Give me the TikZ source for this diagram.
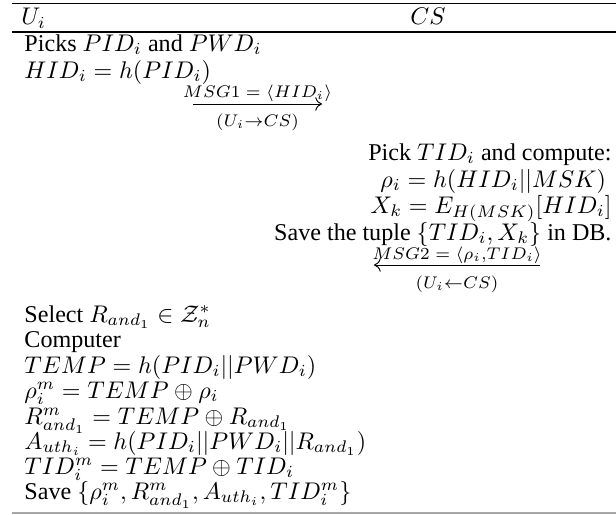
\documentclass[tikz,border=0pt]{standalone}
\usepackage[no-math]{fontspec}
\setmainfont{Liberation Serif}
\usetikzlibrary{arrows.meta}
\begin{document}
\begin{tikzpicture}[x=0.415pt,y=-0.415pt,
  lt/.style={anchor=base west,inner sep=0pt},
  rt/.style={anchor=base east,inner sep=0pt},
  lbl/.style={anchor=base,inner sep=0pt},
  rulebar/.style={line width=0.82pt},
  msg/.style={line width=0.4pt,-{To[length=2.8pt,width=5.6pt]}},
  msgl/.style={line width=0.4pt,{To[length=2.8pt,width=5.6pt]}-}
]
\useasboundingbox (0,0) rectangle (616,514);
% rules
\coordinate (r1a) at (12,3.5);  \coordinate (r1b) at (616,3.5);
\coordinate (r2a) at (12,32);   \coordinate (r2b) at (616,32);
\coordinate (r3a) at (12,513);  \coordinate (r3b) at (616,513);
\draw[rulebar] (r1a) -- (r1b);
\draw[rulebar] (r2a) -- (r2b);
\draw[line width=0.5pt,black!35] (r3a) -- (r3b);
% header
\node[lt] (hu) at (21,25) {$U_i$};
\node[lt] (hc) at (410,25) {$CS$};
% user side, first part
\node[lt] (u1) at (24,51) {Picks $PID_i$ and $PWD_i$};
\node[lt] (u2) at (24,78) {$HID_i = h(PID_i)$};
% message 1
\coordinate (a1s) at (193,104);
\coordinate (a1e) at (322,104);
\draw[msg] (a1s) -- (a1e);
\node[lbl] (m1) at (257.5,97) {$\scriptstyle MSG1\;=\;\langle HID_i\rangle$};
\node[lbl] (d1) at (257.5,126) {$\scriptstyle (U_i\to CS)$};
% server side
\node[rt] (s1) at (612,160) {Pick $TID_i$ and compute:};
\node[lt] (s2) at (380,187) {$\rho_i = h(HID_i||MSK)$};
\node[rt] (s3) at (612,213) {$X_k = E_{H(MSK)}[HID_i]$};
\node[rt] (s4) at (612,240) {Save the tuple $\{TID_i, X_k\}$ in DB.};
% message 2
\coordinate (a2s) at (374,265);
\coordinate (a2e) at (540,265);
\draw[msgl] (a2s) -- (a2e);
\node[lbl] (m2) at (457,259) {$\scriptstyle MSG2\;=\;\langle \rho_i,TID_i\rangle$};
\node[lbl] (d2) at (457,288) {$\scriptstyle (U_i\leftarrow CS)$};
% user side, second part
\node[lt] (v1) at (24,322) {Select $R_{and_1} \in \mathcal{Z}_n^*$};
\node[lt] (v2) at (24,347) {Computer};
\node[lt] (v3) at (24,373) {$TEMP = h(PID_i||PWD_i)$};
\node[lt] (v4) at (24,398) {$\rho_i^m = TEMP \oplus \rho_i$};
\node[lt] (v5) at (24,424) {$R_{and_1}^m = TEMP \oplus R_{and_1}$};
\node[lt] (v6) at (24,449) {$A_{uth_i} = h(PID_i||PWD_i||R_{and_1})$};
\node[lt] (v7) at (24,474) {$TID_i^m = TEMP \oplus TID_i$};
\node[lt] (v8) at (24,499) {Save $\{\rho_i^m, R_{and_1}^m, A_{uth_i}, TID_i^m\}$};
\end{tikzpicture}
\end{document}
